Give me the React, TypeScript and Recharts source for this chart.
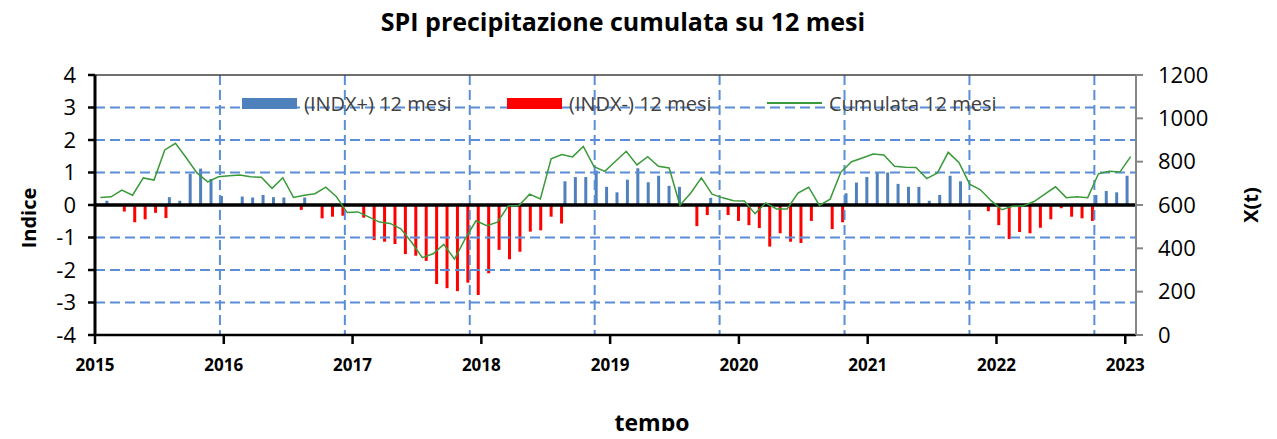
import React from 'react';
import { ComposedChart, Bar, Line, XAxis, YAxis, ReferenceLine } from 'recharts';

// SPI 12 months index, monthly from Jan 2015 (100 values)
const spi12: number[] = [
  0, 0.13, -0.2, -0.53, -0.44, -0.24, -0.4, 0.24, 0.13, 0.96, 1.12, 0.8,
  0.28, 0, 0.26, 0.23, 0.31, 0.24, 0.23, -0.15, 0.23, -0.41, -0.36, -0.33,
  0, -0.39, -1.08, -1.13, -1.2, -1.51, -1.56, -1.72, -2.43, -2.56, -2.65, -2.39,
  -2.77, -2.1, -1.38, -1.67, -1.44, -0.82, -0.78, -0.36, -0.57, 0.73, 0.86, 0.86,
  1.06, 0.56, 0.39, 0.78, 1.13, 0.7, 0.9, 0.59, 0.56, -0.65, -0.31, 0.22,
  -0.31, -0.49, -0.62, -0.71, -1.28, -0.87, -1.13, -1.17, -0.49, 0, -0.74, -0.53,
  0.36, 0.69, 0.86, 1.0, 1.0, 0.65, 0.56, 0.56, 0.13, 0.31, 0.9, 0.73,
  0, -0.19, -0.62, -1.05, -0.83, -0.87, -0.7, -0.44, -0.1, -0.36, -0.41, -0.49,
  0.31, 0.43, 0.39, 0.9,
];

// Cumulated precipitation over 12 months (mm), Jan 2015 .. Jan 2023 (97 values)
const cumulata12: number[] = [
  635, 638, 669, 645, 725, 715, 854, 885, 818, 748, 707, 730,
  735, 738, 730, 728, 677, 726, 635, 645, 652, 682, 638, 565,
  568, 545, 521, 515, 490, 428, 357, 375, 418, 350, 445, 527,
  504, 521, 595, 598, 650, 628, 813, 833, 822, 870, 777, 755,
  802, 848, 785, 823, 779, 771, 599, 654, 725, 650, 633, 620,
  619, 560, 610, 582, 582, 655, 682, 598, 627, 752, 800, 817,
  835, 831, 779, 774, 773, 722, 748, 843, 796, 696, 670, 620,
  578, 594, 596, 616, 650, 684, 634, 638, 634, 744, 756, 752,
  823,
];

const yearLabels = ['2015', '2016', '2017', '2018', '2019', '2020', '2021', '2022', '2023'];
const leftTicks = [-4, -3, -2, -1, 0, 1, 2, 3, 4];
const rightTicks = [0, 200, 400, 600, 800, 1000, 1200];
const seriesNames = ['(INDX+) 12 mesi', '(INDX-) 12 mesi', 'Cumulata 12 mesi'];
const chartTitle = 'SPI precipitazione cumulata su 12 mesi';
const leftTitle = 'Indice';
const rightTitle = 'X(t)';
const bottomTitle = 'tempo';

const BLUE = '#4F81BD';
const RED = '#FF0000';
const GREEN = '#3A9A3A';
const GRID = '#5B8ED6';
const FONT = "'Open Sans', 'Noto Sans', sans-serif";

const barData = spi12.map((v, i) => ({ i, pos: v > 0 ? v : null, neg: v < 0 ? v : null }));
const lineData = cumulata12.map((v, t) => ({ t, v }));
const yearTicks = yearLabels.map((_, k) => k * 12 - 0.5);
const gridCats = yearLabels.slice(1).map((_, k) => (k + 1) * 12);
const hGrid = leftTicks.filter((v) => v !== 0 && Math.abs(v) !== 4);

const W = 1261;
const H = 439;

function LegendBox() {
  const items = [
    { name: seriesNames[0], kind: 'rect', color: BLUE, left: 234 },
    { name: seriesNames[1], kind: 'rect', color: RED, left: 499 },
    { name: seriesNames[2], kind: 'line', color: GREEN, left: 759 },
  ];
  return (
    <>
      {items.map((it) => (
        <div
          key={it.name}
          style={{
            position: 'absolute',
            left: it.left,
            top: 88,
            height: 30,
            display: 'flex',
            alignItems: 'center',
            whiteSpace: 'nowrap',
          }}
        >
          <div style={{ width: 55, height: it.kind === 'rect' ? 11 : 2, background: it.color }} />
          <span style={{ marginLeft: 7, fontSize: 20, color: '#404040' }}>{it.name}</span>
        </div>
      ))}
    </>
  );
}

export default function App() {
  return (
    <div style={{ position: 'relative', width: W, height: H, marginTop: -8, marginBottom: -8, fontFamily: FONT }}>
      <ComposedChart width={W} height={H} data={barData} margin={{ top: 75, right: 0, bottom: 74, left: 0 }}>
        <XAxis xAxisId="bars" dataKey="i" type="category" orientation="top" height={0} hide />
        <XAxis
          xAxisId="line"
          dataKey="t"
          type="number"
          domain={[-0.5, 96.5]}
          allowDataOverflow
          ticks={yearTicks}
          interval={0}
          tickFormatter={(v: number) => yearLabels[Math.round((v + 0.5) / 12)]}
          height={30}
          tickSize={9}
          tickMargin={15}
          axisLine={{ stroke: '#000', strokeWidth: 2.5 }}
          tickLine={{ stroke: '#000', strokeWidth: 2.5 }}
          tick={{ fill: '#000', fontSize: 17, fontWeight: 700, fontFamily: FONT }}
        />
        <YAxis
          yAxisId="left"
          orientation="left"
          domain={[-4, 4]}
          ticks={leftTicks}
          interval={0}
          width={87}
          tickSize={7}
          tickMargin={12}
          axisLine={{ stroke: '#000', strokeWidth: 3 }}
          tickLine={{ stroke: '#000', strokeWidth: 2.5 }}
          tick={{ fill: '#000', fontSize: 22, fontFamily: FONT }}
        />
        <YAxis
          yAxisId="right"
          orientation="right"
          domain={[0, 1200]}
          ticks={rightTicks}
          interval={0}
          width={133}
          tickSize={7}
          tickMargin={15}
          axisLine={{ stroke: '#868686', strokeWidth: 2 }}
          tickLine={{ stroke: '#868686', strokeWidth: 2 }}
          tick={{ fill: '#000', fontSize: 22, fontFamily: FONT }}
        />
        {hGrid.map((y) => (
          <ReferenceLine
            key={'h' + y}
            xAxisId="line"
            yAxisId="left"
            y={y}
            stroke={GRID}
            strokeWidth={2}
            strokeDasharray="10 5"
          />
        ))}
        {gridCats.map((c) => (
          <ReferenceLine
            key={'v' + c}
            xAxisId="bars"
            yAxisId="left"
            x={c}
            position="start"
            stroke={GRID}
            strokeWidth={2}
            strokeDasharray="10 5"
          />
        ))}
        <ReferenceLine xAxisId="line" yAxisId="left" y={4} stroke="#404040" strokeWidth={1.5} />
        <Bar xAxisId="bars" yAxisId="left" dataKey="pos" name={seriesNames[0]} fill={BLUE} barSize={3} isAnimationActive={false} />
        <Bar xAxisId="bars" yAxisId="left" dataKey="neg" name={seriesNames[1]} fill={RED} barSize={3} isAnimationActive={false} />
        <ReferenceLine xAxisId="line" yAxisId="left" y={0} stroke="#000" strokeWidth={3.5} />
        <Line
          xAxisId="line"
          yAxisId="right"
          data={lineData}
          dataKey="v"
          name={seriesNames[2]}
          type="linear"
          stroke={GREEN}
          strokeWidth={1.5}
          dot={false}
          activeDot={false}
          isAnimationActive={false}
        />
      </ComposedChart>

      <LegendBox />

      <div
        style={{
          position: 'absolute',
          left: 615,
          top: 21,
          transform: 'translate(-50%, -50%)',
          fontSize: 25,
          fontWeight: 700,
          whiteSpace: 'nowrap',
          color: '#000',
        }}
      >
        {chartTitle}
      </div>
      <div
        style={{
          position: 'absolute',
          left: 20,
          top: 218,
          transform: 'translate(-50%, -50%) rotate(-90deg)',
          fontSize: 20,
          fontWeight: 700,
          whiteSpace: 'nowrap',
        }}
      >
        {leftTitle}
      </div>
      <div
        style={{
          position: 'absolute',
          left: 1242,
          top: 205,
          transform: 'translate(-50%, -50%) rotate(-90deg)',
          fontSize: 20,
          fontWeight: 700,
          whiteSpace: 'nowrap',
        }}
      >
        {rightTitle}
      </div>
      <div
        style={{
          position: 'absolute',
          left: 644,
          top: 422,
          transform: 'translate(-50%, -50%)',
          fontSize: 23,
          fontWeight: 700,
          whiteSpace: 'nowrap',
        }}
      >
        {bottomTitle}
      </div>
    </div>
  );
}
